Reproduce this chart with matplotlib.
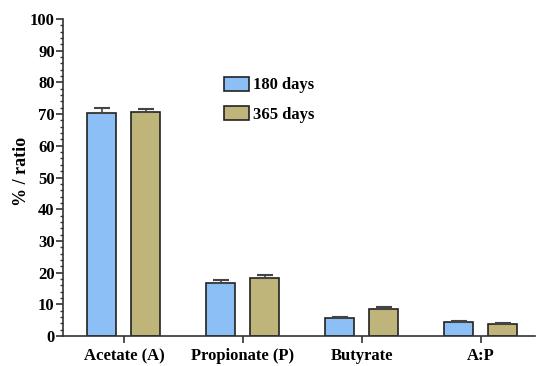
import numpy as np
import matplotlib
matplotlib.use("Agg")
import matplotlib.pyplot as plt
from matplotlib.patches import Patch
from matplotlib.ticker import MultipleLocator

categories = ["Acetate (A)", "Propionate (P)", "Butyrate", "A:P"]
days_180 = [70.3, 16.6, 5.6, 4.3]
days_180_err = [1.5, 1.2, 0.3, 0.4]
days_365 = [70.7, 18.3, 8.4, 3.7]
days_365_err = [1.0, 1.0, 0.6, 0.4]
series_labels = ["180 days", "365 days"]
colors = ["#8dbff7", "#bfb47a"]


def main():
    plt.rcParams["font.family"] = ["Liberation Serif", "DejaVu Serif"]
    plt.rcParams["font.weight"] = "bold"

    fig = plt.figure(figsize=(5.36, 3.66), dpi=100)
    ax = fig.add_axes([0.1175, 0.082, 0.88, 0.866])

    x = np.arange(len(categories))
    width = 0.244
    offset = 0.185
    err_kw = dict(ecolor="#444444", elinewidth=1.2, capsize=5.5, capthick=1.5)

    for i, (vals, errs) in enumerate([(days_180, days_180_err), (days_365, days_365_err)]):
        pos = x - offset if i == 0 else x + offset
        ax.bar(pos, vals, width, color=colors[i], edgecolor="#222222", linewidth=1.2,
               yerr=[np.zeros(len(errs)), errs], error_kw=err_kw, zorder=2)

    ax.set_xlim(-0.513, 3.454)
    ax.set_ylim(0, 100)
    ax.yaxis.set_major_locator(MultipleLocator(10))
    ax.yaxis.set_minor_locator(MultipleLocator(2))
    ax.set_xticks(x)
    ax.set_xticklabels(categories, fontsize=12, fontweight="bold")
    for lab in ax.get_yticklabels():
        lab.set_fontsize(12)
        lab.set_fontweight("bold")
    ax.tick_params(axis="both", which="major", length=5, width=1.2, color="#333333", pad=1)
    ax.tick_params(axis="y", which="minor", length=2.5, width=1, color="#333333")
    ax.tick_params(axis="x", pad=4)
    ax.spines["top"].set_visible(False)
    ax.spines["right"].set_visible(False)
    for side in ["left", "bottom"]:
        ax.spines[side].set_linewidth(1.2)
        ax.spines[side].set_color("#333333")
    ax.set_ylabel("% / ratio", fontsize=13, fontweight="bold")
    ax.yaxis.set_label_coords(-0.07, 0.52)

    handles = [Patch(facecolor=c, edgecolor="#222222", linewidth=1.2) for c in colors]
    ax.legend(handles, series_labels, loc="upper left", bbox_to_anchor=(0.31, 0.865),
              frameon=False, handlelength=1.5, handleheight=0.9,
              handletextpad=0.25, labelspacing=0.75, prop={"weight": "bold", "size": 12})

    plt.savefig("out.png", dpi=100)
    plt.close()


if __name__ == "__main__":
    main()
